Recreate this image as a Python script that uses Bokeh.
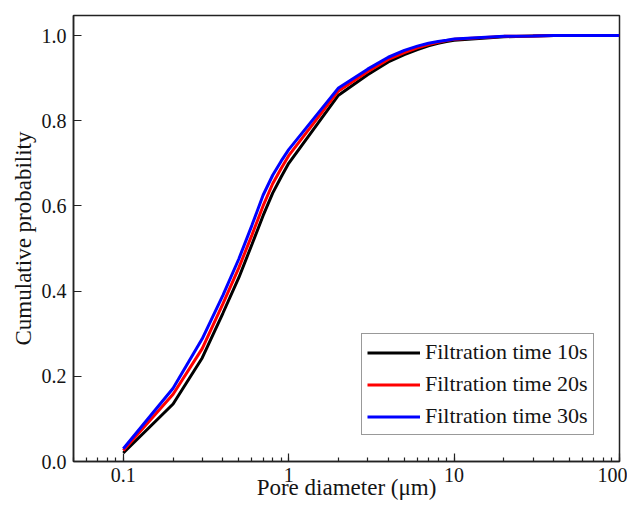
from bokeh.plotting import figure
from bokeh.models import Range1d, FixedTicker, LogTicker, PrintfTickFormatter, CustomJSTickFormatter
from bokeh.embed import file_html
from bokeh.resources import INLINE

# ---- data ----
diameter = [0.1, 0.2, 0.3, 0.4, 0.5, 0.6, 0.7, 0.8, 0.9,
            1, 2, 3, 4, 5, 6, 7, 8, 9,
            10, 20, 30, 40, 50, 60, 70, 80, 90, 100]

cum_10s = [0.020, 0.135, 0.243, 0.348, 0.432, 0.510, 0.577, 0.630, 0.668,
           0.700, 0.860, 0.908, 0.938, 0.955, 0.967, 0.976, 0.982, 0.986,
           0.989, 0.997, 0.999, 1.000, 1.000, 1.000, 1.000, 1.000, 1.000, 1.000]

cum_20s = [0.026, 0.158, 0.265, 0.370, 0.455, 0.532, 0.600, 0.652, 0.688,
           0.718, 0.870, 0.915, 0.944, 0.960, 0.971, 0.979, 0.984, 0.988,
           0.991, 0.998, 0.999, 1.000, 1.000, 1.000, 1.000, 1.000, 1.000, 1.000]

cum_30s = [0.030, 0.172, 0.288, 0.390, 0.476, 0.555, 0.625, 0.672, 0.705,
           0.732, 0.877, 0.921, 0.949, 0.965, 0.975, 0.982, 0.986, 0.989,
           0.992, 0.998, 0.999, 1.000, 1.000, 1.000, 1.000, 1.000, 1.000, 1.000]

series_names = ["Filtration time 10s", "Filtration time 20s", "Filtration time 30s"]
series_colors = ["#000000", "#ff0000", "#0000ff"]
y_ticks = [0.0, 0.2, 0.4, 0.6, 0.8, 1.0]
x_title = "Pore diameter (\u03bcm)"
y_title = "Cumulative probability"

FONT = "Liberation Serif"
INK = "#141414"

p = figure(width=627, height=503, x_axis_type="log",
           x_range=Range1d(0.05, 100), y_range=Range1d(0, 1.047),
           output_backend="svg", toolbar_location=None,
           min_border_left=73, min_border_right=8,
           min_border_top=15, min_border_bottom=42)

for ys, name, col in zip([cum_10s, cum_20s, cum_30s], series_names, series_colors):
    p.line(diameter, ys, line_color=col, line_width=3, legend_label=name)

p.xgrid.grid_line_color = None
p.ygrid.grid_line_color = None
p.outline_line_color = "#222222"
p.outline_line_width = 1.5
p.background_fill_color = "white"
p.border_fill_color = "white"

# x axis
xa = p.xaxis[0]
xa.ticker = LogTicker(num_minor_ticks=10)
xa.formatter = CustomJSTickFormatter(code="return Number(tick.toPrecision(3)).toString();")
xa.axis_label = x_title
xa.major_label_standoff = 6
xa.axis_label_standoff = -10

# y axis
ya = p.yaxis[0]
ya.ticker = FixedTicker(ticks=y_ticks)
ya.formatter = PrintfTickFormatter(format="%.1f")
ya.axis_label = y_title
ya.axis_label_standoff = 3
ya.major_label_standoff = 7

for ax in (xa, ya):
    ax.axis_line_color = "#222222"
    ax.axis_line_width = 1.5
    ax.major_tick_line_color = "#222222"
    ax.major_tick_line_width = 1.2
    ax.minor_tick_line_color = "#222222" if ax is xa else None
    ax.minor_tick_line_width = 1.2
    ax.major_tick_in = 8
    ax.major_tick_out = 0
    ax.minor_tick_in = 4
    ax.minor_tick_out = 0
    ax.major_label_text_font = FONT
    ax.major_label_text_font_size = "20px"
    ax.major_label_text_color = INK
    ax.axis_label_text_font = FONT
    ax.axis_label_text_font_size = "23px"
    ax.axis_label_text_font_style = "normal"
    ax.axis_label_text_color = INK

lg = p.legend[0]
lg.location = (288, 26)
lg.border_line_color = "#333333"
lg.border_line_width = 1
lg.background_fill_alpha = 1
lg.label_text_font = FONT
lg.label_text_font_size = "22px"
lg.label_text_color = INK
lg.glyph_width = 53
lg.glyph_height = 25
lg.label_height = 25
lg.label_standoff = 5
lg.spacing = 6
lg.padding = 5
lg.margin = 0

open("out.html", "w").write(file_html(p, INLINE))
